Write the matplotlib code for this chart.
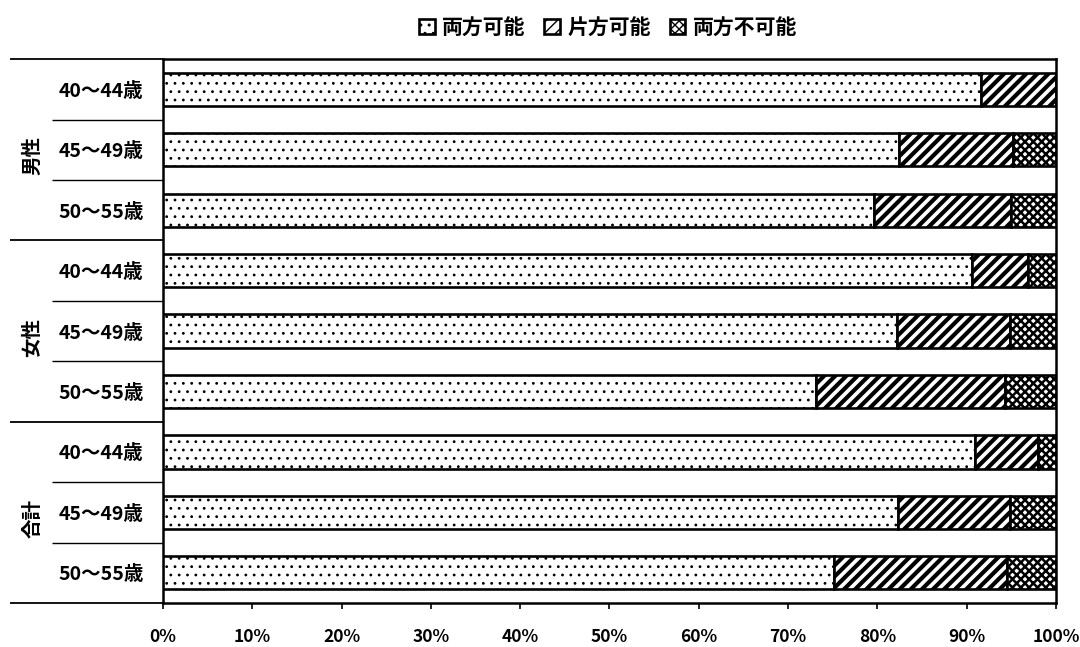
import matplotlib
matplotlib.use("Agg")
import matplotlib.pyplot as plt
from matplotlib.transforms import blended_transform_factory
import numpy as np

plt.rcParams['font.family'] = ['Noto Sans CJK JP', 'DejaVu Sans']
plt.rcParams['hatch.color'] = 'black'

# --- data -------------------------------------------------------------
groups = ["男性", "女性", "合計"]
age_bands = ["40～44歳", "45～49歳", "50～55歳"]
series_names = ["両方可能", "片方可能", "両方不可能"]

both_ok = [91.6, 82.4, 79.6, 90.6, 82.2, 73.1, 90.9, 82.3, 75.1]
one_ok = [8.4, 12.8, 15.4, 6.3, 12.6, 21.2, 7.1, 12.6, 19.4]
neither_ok = [0.0, 4.8, 5.0, 3.1, 5.2, 5.7, 2.0, 5.1, 5.5]

x_ticks = [0, 10, 20, 30, 40, 50, 60, 70, 80, 90, 100]
x_tick_labels = [f"{v}%" for v in x_ticks]

# --- figure -----------------------------------------------------------
fig = plt.figure(figsize=(10.8, 6.47), dpi=100)
ax = fig.add_axes([0.1509, 0.068, 0.8269, 0.8405])

n_rows = len(groups) * len(age_bands)
ypos = np.arange(n_rows)
row_labels = [a for g in groups for a in age_bands]

hatches = ["..", "///", "xxxx"]
hatch_lw = [0.8, 3.0, 1.8]
values = [both_ok, one_ok, neither_ok]

left = np.zeros(n_rows)
handles = []
for name, vals, hatch, hlw in zip(series_names, values, hatches, hatch_lw):
    with plt.rc_context({'hatch.linewidth': hlw}):
        bars = ax.barh(ypos, vals, left=left, height=0.55, color='white',
                       edgecolor='black', linewidth=1.9, hatch=hatch,
                       label=name, zorder=3)
        for b in bars:
            if hasattr(b, 'set_hatch_linewidth'):
                b.set_hatch_linewidth(hlw)
    handles.append(bars)
    left = left + np.array(vals)

ax.set_xlim(0, 100)
ax.set_ylim(n_rows - 0.5, -0.5)

ax.set_xticks(x_ticks)
ax.set_xticklabels(x_tick_labels, fontsize=12.5, fontweight='bold')
ax.tick_params(axis='x', direction='out', length=4, width=1.2, pad=14)

ax.set_yticks(ypos)
ax.set_yticklabels(row_labels, fontsize=14, fontweight='bold')
ax.tick_params(axis='y', length=0, pad=14)

for s in ax.spines.values():
    s.set_linewidth(1.8)
    s.set_color('black')

# category separators and group brackets left of the axis
trans = blended_transform_factory(ax.transAxes, ax.transData)
for k in range(n_rows + 1):
    yb = k - 0.5
    if k % len(age_bands) == 0:
        x0 = -0.171
        lw = 1.3
    else:
        x0 = -0.124
        lw = 1.0
    ax.plot([x0, 0], [yb, yb], color='black', lw=lw, transform=trans,
            clip_on=False, solid_capstyle='butt')

for gi, g in enumerate(groups):
    yc = gi * len(age_bands) + (len(age_bands) - 1) / 2 + 0.1
    ax.text(-0.1456, yc, g, transform=trans, rotation=90, ha='center',
            va='center', fontsize=14, fontweight='bold')

leg = fig.legend(handles=handles, labels=series_names, loc='center',
                 bbox_to_anchor=(0.563, 0.958), ncol=3, frameon=False,
                 prop={'size': 15, 'weight': 'bold'}, handlelength=0.75,
                 handleheight=0.75, handletextpad=0.35, columnspacing=0.9)

fig.savefig("out.png", dpi=100, facecolor='white')
